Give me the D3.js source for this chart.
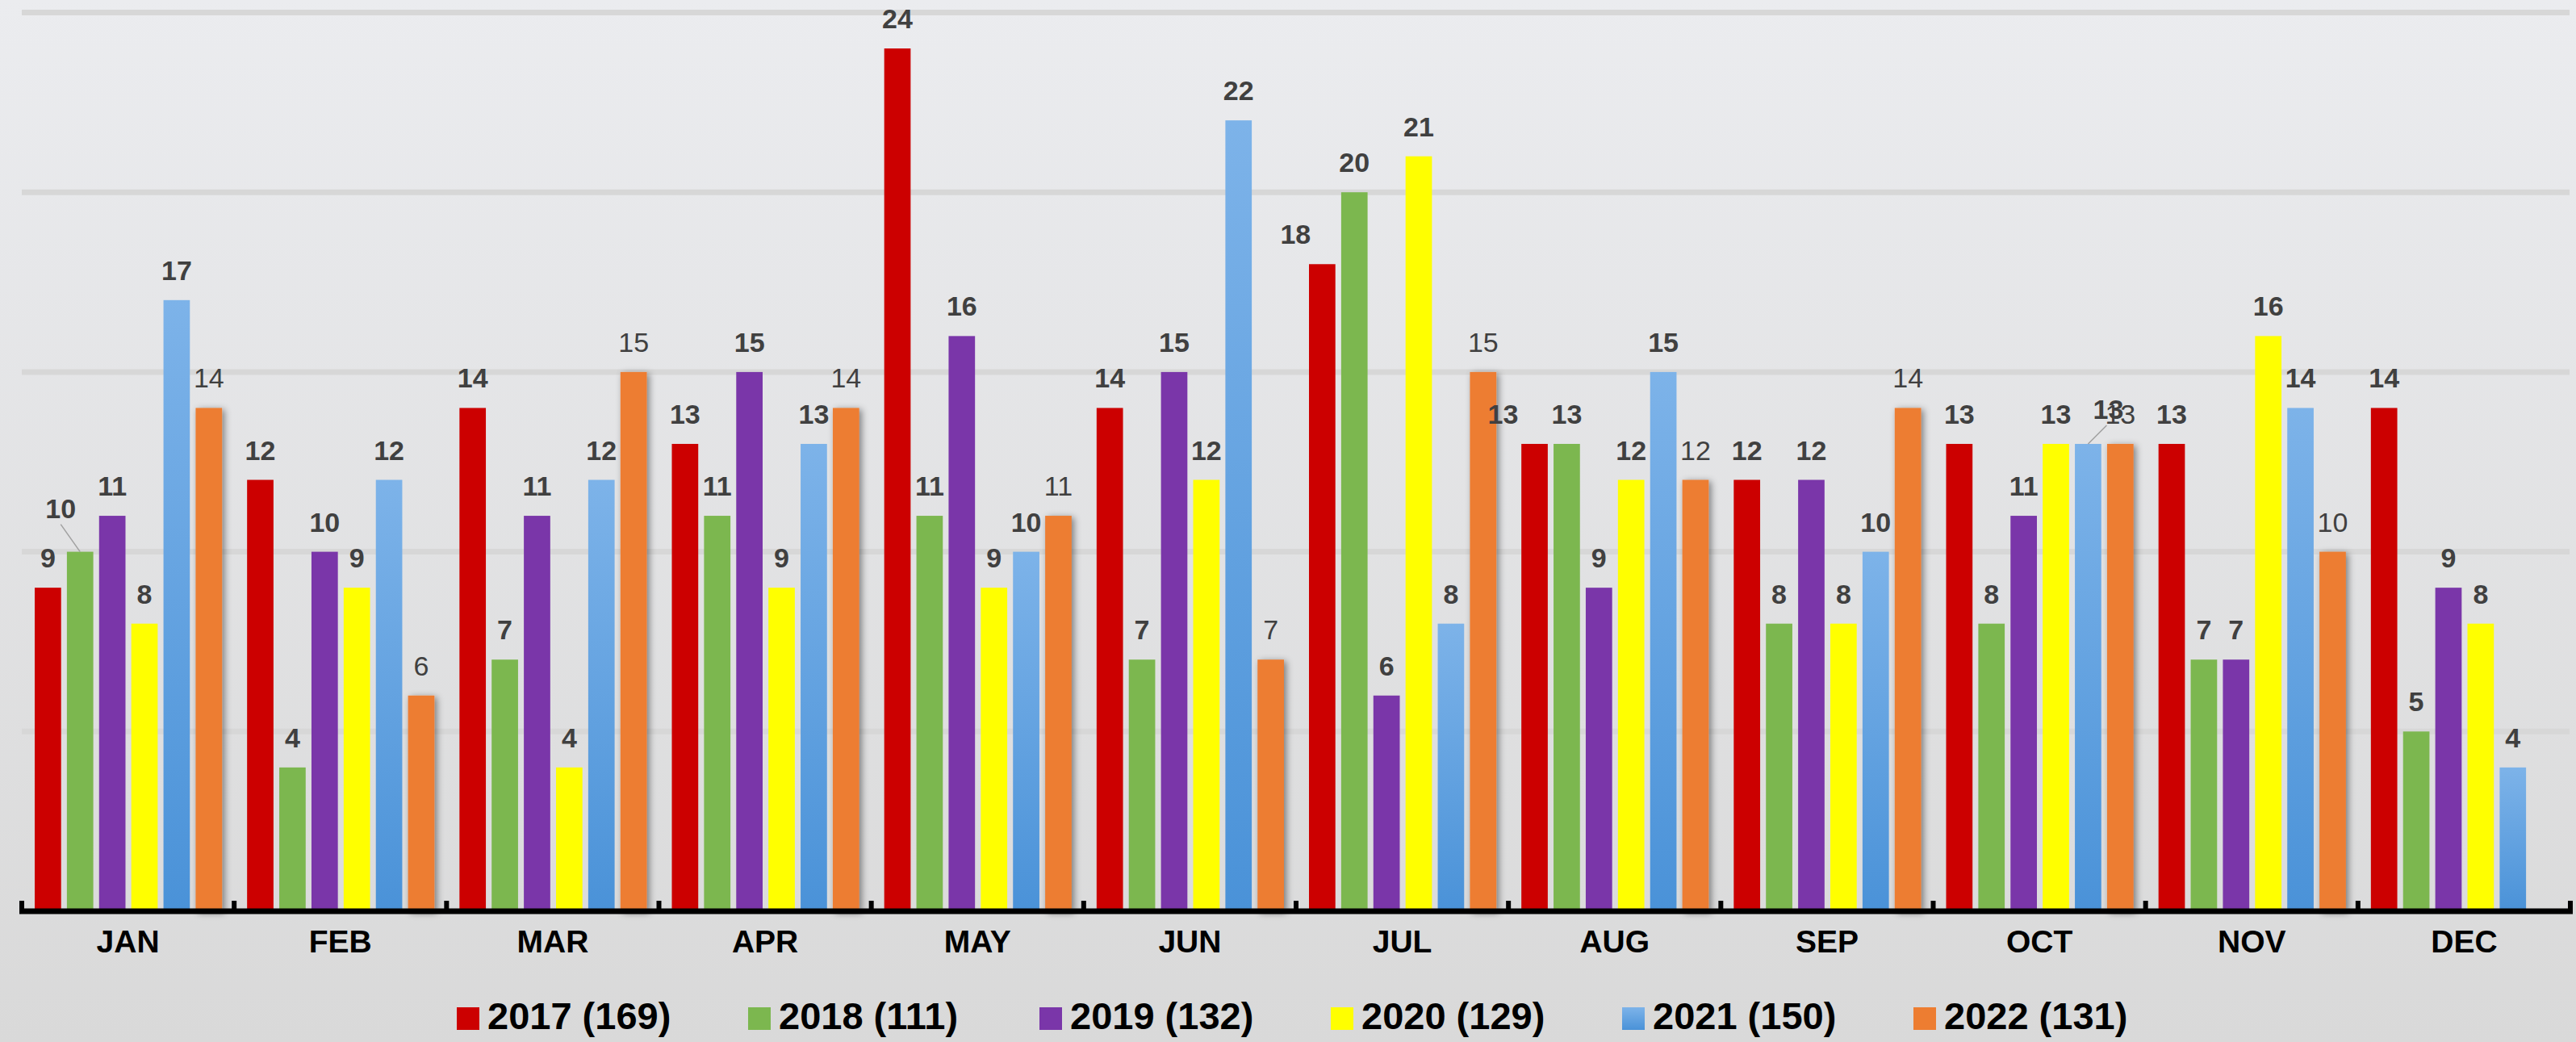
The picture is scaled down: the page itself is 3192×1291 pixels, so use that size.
<!DOCTYPE html>
<html>
<head>
<meta charset="utf-8">
<script src="https://cdnjs.cloudflare.com/ajax/libs/d3/7.8.5/d3.min.js"></script>
<style>
  html, body { margin: 0; padding: 0; background: #dcdcdc; }
  svg { display: block; }
  text { font-family: "Liberation Sans", Arial, sans-serif; }
</style>
</head>
<body>
<svg id="chart" width="3192" height="1291"></svg>
<script>
// ---- DATA ----
const months = ["JAN","FEB","MAR","APR","MAY","JUN","JUL","AUG","SEP","OCT","NOV","DEC"];
const seriesNames = ["2017","2018","2019","2020","2021","2022"];
const totals = [169, 111, 132, 129, 150, 131];
const v2017 = [9, 12, 14, 13, 24, 14, 18, 13, 12, 13, 13, 14];
const v2018 = [10, 4, 7, 11, 11, 7, 20, 13, 8, 8, 7, 5];
const v2019 = [11, 10, 11, 15, 16, 15, 6, 9, 12, 11, 7, 9];
const v2020 = [8, 9, 4, 9, 9, 12, 21, 12, 8, 13, 16, 8];
const v2021 = [17, 12, 12, 13, 10, 22, 8, 15, 10, 13, 14, 4];
const v2022 = [14, 6, 15, 14, 11, 7, 15, 12, 14, 13, 10, null];
const yTicks = [0, 5, 10, 15, 20, 25];

// ---- STYLE / LAYOUT ----
const seriesValues = [v2017, v2018, v2019, v2020, v2021, v2022];
const colors = ["#cc0000", "#7cb74f", "#7a36a9", "#ffff00", "url(#blueGrad)", "#ed7d31"];
const legendColors = ["#cc0000", "#7cb74f", "#7a36a9", "#ffff00", "url(#blueGradL)", "#ed7d31"];
// label adjustments (month index, series index, dx, dy, leader)
const labelAdjust = [
  {m: 0, s: 1, dx: -24, dy: -17, leader: true},
  {m: 9, s: 4, dx: 25, dy: -6, leader: true},
  {m: 6, s: 0, dx: -33, dy: 0, leader: false},
  {m: 7, s: 0, dx: -39, dy: 0, leader: false}
];

const W = 3192, H = 1291;
const svg = d3.select("#chart");
const defs = svg.append("defs");

const bg = defs.append("linearGradient").attr("id", "bgGrad")
  .attr("x1", 0).attr("y1", 0).attr("x2", 0).attr("y2", 1);
bg.append("stop").attr("offset", "0%").attr("stop-color", "#ebecef");
bg.append("stop").attr("offset", "100%").attr("stop-color", "#d9d9d9");

function blueGrad(id) {
  const g = defs.append("linearGradient").attr("id", id)
    .attr("x1", 0).attr("y1", 0).attr("x2", 0).attr("y2", 1);
  g.append("stop").attr("offset", "0%").attr("stop-color", "#7db3e9");
  g.append("stop").attr("offset", "100%").attr("stop-color", "#4a92d8");
}
blueGrad("blueGrad");
blueGrad("blueGradL");

const shadow = defs.append("filter").attr("id", "shadow")
  .attr("x", "-40%").attr("y", "-10%").attr("width", "180%").attr("height", "120%");
shadow.append("feDropShadow").attr("dx", 3).attr("dy", 2)
  .attr("stdDeviation", 4).attr("flood-color", "#000").attr("flood-opacity", 0.45);

svg.append("rect").attr("width", W).attr("height", H).attr("fill", "url(#bgGrad)");

const x0 = d3.scaleBand().domain(months).range([27, 3185]).paddingInner(0).paddingOuter(0);
const x1 = d3.scaleBand().domain(seriesNames).range([16, x0.bandwidth() - 15])
  .paddingInner(0.18).paddingOuter(0);
const y = d3.scaleLinear().domain([0, 25]).range([1129, 15.5]);

// gridlines
svg.append("g").selectAll("line").data(yTicks.filter(d => d > 0)).join("line")
  .attr("x1", 27).attr("x2", 3184)
  .attr("y1", d => y(d)).attr("y2", d => y(d))
  .attr("stroke", "#d7d7d7").attr("stroke-width", 7);

// bars
const flat = [];
months.forEach((m, mi) => {
  seriesNames.forEach((s, si) => {
    const v = seriesValues[si][mi];
    if (v != null) flat.push({m, mi, s, si, v});
  });
});

const barG = svg.append("g");
barG.selectAll("rect").data(flat).join("rect")
  .attr("x", d => x0(d.m) + x1(d.s))
  .attr("y", d => y(d.v))
  .attr("width", x1.bandwidth())
  .attr("height", d => y(0) - y(d.v))
  .attr("fill", d => colors[d.si])
  .attr("filter", d => d.si === 5 ? "url(#shadow)" : null);

// labels
const labG = svg.append("g");
flat.forEach(d => {
  const adj = labelAdjust.find(a => a.m === d.mi && a.s === d.si);
  const cx = x0(d.m) + x1(d.s) + x1.bandwidth() / 2;
  const top = y(d.v);
  const lx = cx + (adj ? adj.dx : 0);
  const ly = top - 25 + (adj ? adj.dy : 0);
  if (adj && adj.leader) {
    labG.append("line")
      .attr("x1", cx).attr("y1", top)
      .attr("x2", adj.dx < 0 ? lx : lx - 2).attr("y2", ly + 8)
      .attr("stroke", "#a0a0a0").attr("stroke-width", 1.5);
  }
  labG.append("text")
    .attr("x", lx).attr("y", ly)
    .attr("text-anchor", "middle")
    .attr("font-size", 34)
    .attr("font-weight", d.si === 5 ? "normal" : "bold")
    .attr("fill", "#404040")
    .text(d.v);
});

// x axis line and boundary ticks
const axisG = svg.append("g");
axisG.append("line")
  .attr("x1", 24).attr("x2", 3188)
  .attr("y1", 1129).attr("y2", 1129)
  .attr("stroke", "#000").attr("stroke-width", 7);
const bounds = months.map(m => x0(m)).concat([x0.range()[1]]);
axisG.selectAll("line.tick").data(bounds).join("line").attr("class", "tick")
  .attr("x1", d => d).attr("x2", d => d)
  .attr("y1", 1116).attr("y2", 1130)
  .attr("stroke", "#000").attr("stroke-width", 6);

// month labels via d3 axis
const xAxis = d3.axisBottom(x0).tickSize(0).tickPadding(0);
const xa = svg.append("g").attr("transform", "translate(0,1152)").call(xAxis);
xa.select(".domain").remove();
xa.selectAll("text")
  .attr("font-family", "'Liberation Sans', Arial, sans-serif")
  .attr("font-size", 39).attr("font-weight", "bold").attr("fill", "#000")
  .attr("dy", "0.71em");

// legend
const legG = svg.append("g");
seriesNames.forEach((s, i) => {
  const lx = 566 + i * 361;
  legG.append("rect").attr("x", lx).attr("y", 1248).attr("width", 28).attr("height", 28)
    .attr("fill", legendColors[i]);
  legG.append("text").attr("x", lx + 38).attr("y", 1275)
    .attr("font-size", 47).attr("font-weight", "bold").attr("fill", "#000")
    .text(`${s} (${totals[i]})`);
});
</script>
</body>
</html>
